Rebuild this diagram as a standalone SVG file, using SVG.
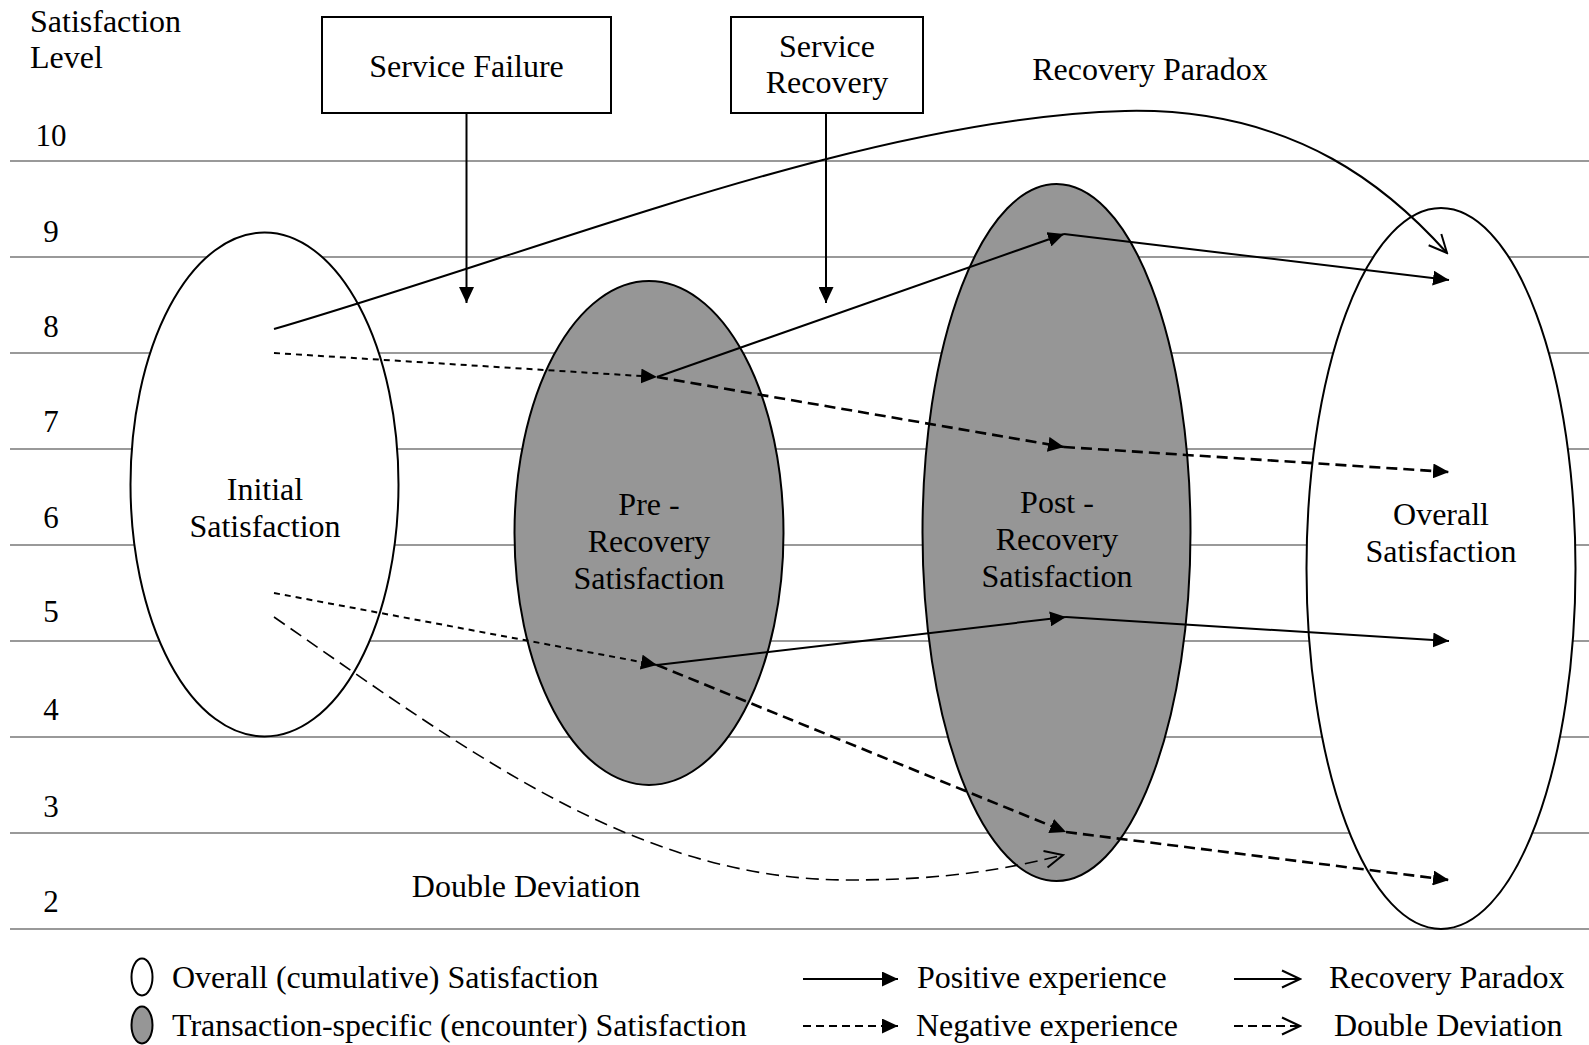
<svg xmlns="http://www.w3.org/2000/svg" width="1589" height="1045" viewBox="0 0 1589 1045">
<defs>
<style>
text{font-family:"Liberation Serif","Times New Roman",serif;font-size:32px;fill:#000}
.num{text-anchor:middle;font-size:31px}
.mid{text-anchor:middle}
.grid line{stroke:#999;stroke-width:2}
.ov{fill:#fff;stroke:#000;stroke-width:2}
.tr{fill:#969696;stroke:#000;stroke-width:2}
.box{fill:#fff;stroke:#000;stroke-width:2}
.c{fill:none;stroke:#000;stroke-width:2}
.ns{stroke-dasharray:6 5}
.nl{stroke-dasharray:11 6;stroke-width:2.6}
.dd{stroke-dasharray:13 7;stroke-width:1.6}
</style>
<marker id="fa" markerUnits="userSpaceOnUse" markerWidth="17" markerHeight="15" refX="16" refY="7.5" orient="auto" viewBox="0 0 17 15">
<path d="M0,0 L16,7.5 L0,15 z" fill="#000" stroke="none"/>
</marker>
<marker id="oa" markerUnits="userSpaceOnUse" markerWidth="22" markerHeight="20" refX="20" refY="10" orient="auto" viewBox="0 0 22 20">
<path d="M2,1.5 L20,10 L2,18.5" fill="none" stroke="#000" stroke-width="2" stroke-dasharray="none"/>
</marker>
</defs>
<rect width="1589" height="1045" fill="#fff"/>
<g id="axis">
<text x="30" y="32">Satisfaction</text>
<text x="30" y="68">Level</text>
<g class="grid">
<line x1="10" y1="161" x2="1589" y2="161"/>
<line x1="10" y1="257" x2="1589" y2="257"/>
<line x1="10" y1="353" x2="1589" y2="353"/>
<line x1="10" y1="449" x2="1589" y2="449"/>
<line x1="10" y1="545" x2="1589" y2="545"/>
<line x1="10" y1="641" x2="1589" y2="641"/>
<line x1="10" y1="737" x2="1589" y2="737"/>
<line x1="10" y1="833" x2="1589" y2="833"/>
<line x1="10" y1="929" x2="1589" y2="929"/>
</g>
<text class="num" x="51" y="146">10</text>
<text class="num" x="51" y="242">9</text>
<text class="num" x="51" y="337">8</text>
<text class="num" x="51" y="432">7</text>
<text class="num" x="51" y="528">6</text>
<text class="num" x="51" y="622">5</text>
<text class="num" x="51" y="720">4</text>
<text class="num" x="51" y="817">3</text>
<text class="num" x="51" y="912">2</text>
</g>
<g id="service-failure">
<rect class="box" x="322" y="17" width="289" height="96"/>
<text class="mid" x="466.5" y="77">Service Failure</text>
</g>
<g id="service-recovery">
<rect class="box" x="731" y="17" width="192" height="96"/>
<text class="mid" x="827" y="57">Service</text>
<text class="mid" x="827" y="93">Recovery</text>
</g>
<g id="initial">
<ellipse class="ov" cx="264.5" cy="484.5" rx="134" ry="252"/>
<text class="mid" x="265" y="500">Initial</text>
<text class="mid" x="265" y="537">Satisfaction</text>
</g>
<g id="pre-recovery">
<ellipse class="tr" cx="649" cy="533" rx="134.5" ry="252"/>
<text class="mid" x="649" y="515">Pre -</text>
<text class="mid" x="649" y="552">Recovery</text>
<text class="mid" x="649" y="589">Satisfaction</text>
</g>
<g id="post-recovery">
<ellipse class="tr" cx="1056.5" cy="532.5" rx="134" ry="348.5"/>
<text class="mid" x="1057" y="513">Post -</text>
<text class="mid" x="1057" y="550">Recovery</text>
<text class="mid" x="1057" y="587">Satisfaction</text>
</g>
<g id="overall">
<ellipse class="ov" cx="1441" cy="568.5" rx="134.5" ry="360.5"/>
<text class="mid" x="1441" y="525">Overall</text>
<text class="mid" x="1441" y="562">Satisfaction</text>
</g>
<g id="recovery-paradox-label">
<text class="mid" x="1150" y="80">Recovery Paradox</text>
</g>
<g id="double-deviation-label">
<text class="mid" x="526" y="897">Double Deviation</text>
</g>
<g id="connectors">
<path class="c" d="M466.5,113 L466.5,303" marker-end="url(#fa)"/>
<path class="c" d="M826,113 L826,303" marker-end="url(#fa)"/>
<path class="c" d="M274,329 C560,245 870,118 1125,111 C1300,107 1395,195 1447,253" marker-end="url(#oa)"/>
<path class="c ns" d="M274,353 L657,377" marker-end="url(#fa)"/>
<path class="c nl" d="M657,377 L1064,447" marker-end="url(#fa)"/>
<path class="c nl" d="M1064,447 L1449,472" marker-end="url(#fa)"/>
<path class="c" d="M657,377 L1064,234" marker-end="url(#fa)"/>
<path class="c" d="M1064,234 L1449,280" marker-end="url(#fa)"/>
<path class="c ns" d="M274,593 L657,665" marker-end="url(#fa)"/>
<path class="c" d="M657,665 L1066,617" marker-end="url(#fa)"/>
<path class="c" d="M1066,617 L1449,641" marker-end="url(#fa)"/>
<path class="c nl" d="M657,665 L1066,832" marker-end="url(#fa)"/>
<path class="c nl" d="M1066,832 L1449,880" marker-end="url(#fa)"/>
<path class="c dd" d="M274,617 C480,760 640,880 850,880 C950,880 1010,868 1063,855" marker-end="url(#oa)"/>
</g>
<g id="legend">
<ellipse class="ov" cx="142" cy="977" rx="10.5" ry="18.5"/>
<ellipse class="tr" cx="142" cy="1025" rx="10.5" ry="18.5"/>
<text x="172" y="988">Overall (cumulative) Satisfaction</text>
<text x="172" y="1036">Transaction-specific (encounter) Satisfaction</text>
<path class="c" d="M803,979 L898,979" marker-end="url(#fa)"/>
<text x="917" y="988">Positive experience</text>
<path class="c" d="M803,1026 L898,1026" stroke-dasharray="8 5" marker-end="url(#fa)"/>
<text x="916" y="1036">Negative experience</text>
<path class="c" d="M1234,979 L1300,979" marker-end="url(#oa)"/>
<text x="1329" y="988">Recovery Paradox</text>
<path class="c" d="M1234,1026 L1300,1026" stroke-dasharray="9 5" marker-end="url(#oa)"/>
<text x="1334" y="1036">Double Deviation</text>
</g>
</svg>
